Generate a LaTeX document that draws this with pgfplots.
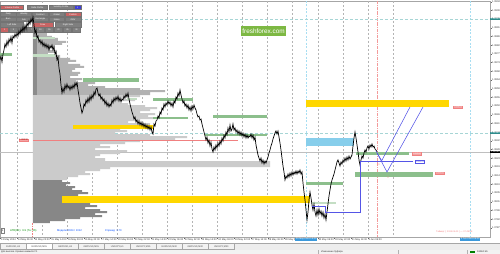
\documentclass[border=0pt]{standalone}
\usepackage{fontspec}
\setmainfont{Liberation Sans}
\usepackage{pgfplots}
\pgfplotsset{compat=1.18}
\definecolor{zgreen}{HTML}{8CBF8C}
\definecolor{zlgreen}{HTML}{C4DEC4}
\definecolor{zyellow}{HTML}{FFD700}
\definecolor{zblue}{HTML}{87CEEB}
\definecolor{pline}{HTML}{5555E6}
\definecolor{teal1}{HTML}{A6D5D5}
\definecolor{tealbox}{HTML}{2E8B8B}
\definecolor{cyanv}{HTML}{A8DEF2}
\definecolor{redl}{HTML}{F08080}
\definecolor{pinkbox}{HTML}{F4A3A3}
\definecolor{btngray}{HTML}{7F7F7F}
\definecolor{btnred}{HTML}{C86464}
\definecolor{btnblue}{HTML}{3F3FD8}
\definecolor{ffgreen}{HTML}{7DB843}
\definecolor{pupper}{HTML}{B2B2B2}
\definecolor{pcore}{HTML}{8C8C8C}
\definecolor{pmid}{HTML}{CBCBCB}
\definecolor{plow}{HTML}{878787}
\definecolor{gridc}{HTML}{B4B4B4}
\newcommand{\fs}[1]{\fontsize{#1}{#1}\selectfont}
\newcommand{\zone}[5]{\addplot[fill=#1,draw=none,forget plot] coordinates {(#2,#4) (#3,#4) (#3,#5) (#2,#5)};}
\newcommand{\btn}[6]{\draw[fill=#5,draw=black!55,line width=0.2pt] (axis cs:#1,#3) rectangle (axis cs:#2,#4);
  \node[text=white,font=\fs{2.2},inner sep=0pt] at (axis cs:{(#1+#2)/2},{(#3+#4)/2}) {#6};}
\newcommand{\plabel}[5]{\node[fill=#2,draw=#3,line width=0.2pt,text=#4,font=\fs{2.3},inner sep=0.4pt,anchor=west] at (axis cs:#1) {#5};}
\begin{document}
\begin{tikzpicture}
\useasboundingbox (0,0) rectangle (500pt,254pt);
\begin{axis}[at={(0pt,17pt)}, anchor=south west, scale only axis,
  width=490pt, height=236pt, xmin=0, xmax=490, ymin=1, ymax=237, y dir=reverse,
  clip=false, axis line style={draw=gray!70, line width=0.5pt},
  xtick pos=bottom, ytick pos=right, yticklabel pos=right,
  tick align=outside, major tick length=1.5pt, tick style={draw=black!60,line width=0.25pt},
  xtick={0.5,17.2,33.9,50.6,67.3,84,100.7,117.4,134.1,150.8,167.5,184.2,200.9,217.6,234.3,251,267.7,284.4,301.1,317.8,334.5,351.2,367.9},
  xticklabels={13 May 2024,14 May 06:00,14 May 22:00,15 May 14:00,16 May 06:00,16 May 22:00,17 May 14:00,20 May 06:00,20 May 22:00,21 May 14:00,22 May 06:00,22 May 22:00,23 May 14:00,24 May 06:00,24 May 22:00,27 May 14:00,28 May 06:00,28 May 22:00,29 May 14:00,30 May 06:00,30 May 22:00,31 May 14:00,3 Jun 06:00},
  xticklabel style={font=\fs{2.5},anchor=north west,inner sep=0.5pt,text=black!80},
  ytick={1.7,10.4,19.1,27.8,36.5,45.2,53.9,62.6,71.3,80.0,88.7,97.4,106.1,114.8,123.5,132.2,140.9,149.6,158.3,167.0,175.7,184.4,193.1,201.8,210.5,219.2,227.9},
  yticklabels={1.09045,1.09000,1.08955,1.08910,1.08865,1.08820,1.08775,1.08730,1.08685,1.08640,1.08595,1.08550,1.08505,1.08460,1.08415,1.08370,1.08325,1.08280,1.08235,1.08190,1.08145,1.08100,1.08055,1.08010,1.07965,1.07920,1.07875},
  yticklabel style={font=\fs{2.5},anchor=west,inner sep=0.5pt,text=black!80},
]
% vertical grid
\pgfplotsinvokeforeach{17,42,67,92,117,142,167,192,217,242,267,292,318,343,368,393}{
  \addplot[gridc,dash pattern=on 2pt off 2pt,line width=0.4pt,forget plot] coordinates {(#1,1) (#1,237)};}
\addplot[cyanv,dash pattern=on 2pt off 1.5pt,line width=0.5pt,forget plot] coordinates {(306,1) (306,237)};
\addplot[cyanv,dash pattern=on 2pt off 1.5pt,line width=0.5pt,forget plot] coordinates {(470,1) (470,237)};
\addplot[redl!80,dash pattern=on 3pt off 1pt on 0.6pt off 1pt,line width=0.4pt,forget plot] coordinates {(377,1) (377,237)};
\addplot[redl,dash pattern=on 1.5pt off 1pt,line width=0.4pt,forget plot] coordinates {(32,223) (32,237)};
% horizontal lines
\addplot[teal1,dash pattern=on 3pt off 2pt,line width=0.8pt,forget plot] coordinates {(0,19) (490,19)};
\addplot[teal1,dash pattern=on 3pt off 2pt,line width=0.8pt,forget plot] coordinates {(0,133) (490,133)};
\addplot[black!25,line width=0.3pt,forget plot] coordinates {(0,152) (490,152)};
% volume profile
\addplot[fill=pupper,draw=none,forget plot] coordinates {(33,27) (37,27) (37,30) (40,30) (40,33) (47,33) (47,36) (52,36) (52,38) (58,38) (58,41) (66,41) (66,43) (62,43) (62,45) (55,45) (55,48) (50,48) (50,50) (57,50) (57,53) (48,53) (48,55) (60,55) (60,58) (70,58) (70,60) (76,60) (76,62) (68,62) (68,64) (80,64) (80,66) (84,66) (84,68) (75,68) (75,70) (72,70) (72,72) (80,72) (80,74) (78,74) (78,76) (70,76) (70,78) (82,78) (82,80) (76,80) (76,82) (95,82) (95,84) (88,84) (88,86) (105,86) (105,88) (140,88) (140,90) (165,90) (165,92) (150,92) (150,95) (33,95)};
\zone{pcore}{33}{37.5}{27}{95}
\addplot[fill=pmid,draw=none,forget plot] coordinates {(33,95) (140,95) (140,97) (125,97) (125,99) (135,99) (135,101) (120,101) (120,103) (128,103) (128,105) (145,105) (145,107) (157,107) (157,109) (150,109) (150,111) (140,111) (140,113) (155,113) (155,115) (148,115) (148,117) (160,117) (160,119) (140,119) (140,121) (128,121) (128,123) (150,123) (150,125) (140,125) (140,128) (120,128) (120,130) (127,130) (127,132) (115,132) (115,134) (150,134) (150,136) (187,136) (187,138) (175,138) (175,140) (140,140) (140,142) (125,142) (125,144) (100,144) (100,146) (110,146) (110,148) (95,148) (95,150) (127,150) (127,152) (120,152) (120,154) (100,154) (100,156) (95,156) (95,158) (105,158) (105,161) (270,161) (270,167) (110,167) (110,169) (100,169) (100,171) (85,171) (85,173) (90,173) (90,175) (78,175) (78,177) (67,177) (67,180) (33,180)};
\addplot[fill=plow,draw=none,forget plot] coordinates {(33,180) (62,180) (62,182) (70,182) (70,184) (66,184) (66,186) (75,186) (75,188) (72,188) (72,190) (82,190) (82,192) (88,192) (88,194) (78,194) (78,196) (70,196) (70,203) (90,203) (90,205) (97,205) (97,207) (85,207) (85,209) (100,209) (100,211) (107,211) (107,213) (95,213) (95,215) (102,215) (102,217) (80,217) (80,219) (65,219) (65,221) (50,221) (50,223) (33,223)};
% zones
\zone{zyellow}{73}{153}{125}{129}
\zone{zyellow}{62}{310}{196}{203}
\zone{zyellow}{306}{449}{100}{107}
\zone{zblue}{306}{354}{138}{146}
\zone{zgreen}{0}{12}{53}{56}
\zone{zlgreen}{33}{55}{37}{39}
\zone{zlgreen}{33}{55}{54}{57}
\zone{zgreen}{83}{139}{78}{81.5}
\zone{zlgreen}{127}{137}{98}{100}
\zone{zgreen}{153}{193}{98}{101}
\zone{zgreen}{153}{188}{117}{119}
\zone{zgreen}{213}{267}{115}{118}
\zone{zgreen}{205}{267}{133.5}{136}
\zone{zgreen}{306}{343}{182}{185}
\zone{zlgreen}{312}{336}{202}{204}
\zone{zgreen}{356}{409}{152}{155}
\zone{zgreen}{355}{433}{172}{176.5}
% red level
\addplot[redl,line width=1pt,forget plot] coordinates {(33,140) (238,140)};
% buttons
\btn{0.5}{23.5}{5}{9.5}{btnred}{Volume Profile}
\btn{27}{47.5}{5}{9.5}{btngray}{Delta Profile}
\btn{49}{73}{5}{9.5}{btngray}{Volatility Profile}
\btn{74}{81}{5}{9.5}{btnblue}{1}
\btn{0.5}{16}{12}{16.5}{btngray}{Daily}
\btn{16.5}{31.5}{12}{16.5}{btngray}{Weekly}
\btn{32.5}{48}{12}{16.5}{btngray}{Contract}
\btn{49}{64.5}{12}{16.5}{btngray}{Global}
\btn{65}{81}{12}{16.5}{btnred}{Custom}
\btn{0.5}{16}{17}{21.5}{btngray}{Bars}
\btn{16.5}{31.5}{17}{21.5}{btngray}{Ask}
\btn{32.5}{48}{17}{21.5}{btngray}{Rectangle}
\btn{49}{64.5}{17}{21.5}{btngray}{Noise}
\btn{65}{81}{17}{21.5}{btngray}{OBV}
\btn{0.5}{23.5}{22.5}{27}{btngray}{Left Side}
\btn{32.5}{53}{22.5}{27}{btnred}{Draw}
\btn{55}{81}{22.5}{27}{btngray}{Right Side}
\btn{0.5}{8.5}{27.5}{32}{btnred}{1}
\btn{9.5}{17.5}{27.5}{32}{btngray}{3}
\btn{18.5}{26.5}{27.5}{32}{btngray}{5}
\btn{27.5}{35.5}{27.5}{32}{btngray}{7}
\btn{36.5}{44.5}{27.5}{32}{btngray}{10}
\btn{45.5}{53.5}{27.5}{32}{btngray}{15}
\btn{54.5}{62.5}{27.5}{32}{btngray}{20}
\btn{63.5}{71.5}{27.5}{32}{btngray}{25}
\btn{72.5}{80.5}{27.5}{32}{btngray}{30}
% price
\addplot[black,line width=0.7pt,forget plot] coordinates {
(0,60)(1,56)(2,62)(3,54)(4,50)(5,44)(6,47)(7,41)(8,45)(9,39)(10,42)(11,37)(12,43)(13,36)(14,38)(15,34)(16,37)(17,33)(18,36)(19,31)(20,34)(21,29)(22,32)(23,27)(24,31)(25,25)(26,29)(27,23)(28,26)(29,21)(30,24)(31,19)(32,22)(33,17)
(34,25)(35,33)(36,30)(37,38)(38,36)(39,42)(40,40)(41,44)(42,41)(43,46)(44,43)(45,47)(46,44)(47,48)(48,45)(49,50)(50,46)(51,48)(52,45)(53,50)(54,47)(55,54)(56,52)(57,60)(58,57)(59,68)(60,74)(61,85)(62,93)
(63,88)(64,92)(65,85)(66,89)(67,84)(68,88)(69,86)(70,90)(71,86)(72,89)(73,85)(74,88)(75,83)(76,86)(77,82)(78,90)(79,96)(80,103)(81,108)(82,113)(83,110)
(84,104)(85,106)(86,100)(87,103)(88,98)(89,102)(90,96)(91,100)(92,95)(93,98)(94,92)(95,95)(96,89)(97,88)(98,93)(99,96)(100,94)(101,99)(102,97)(103,101)(104,99)(105,104)(106,101)(107,106)(108,103)(109,107)(110,104)(111,106)(112,100)(113,103)(114,98)(115,101)(116,97)(117,100)(118,96)(119,101)(120,98)(121,102)(122,99)(123,100)(124,96)(125,98)(126,94)(127,97)(128,93)
(129,99)(130,104)(131,108)(132,112)(133,115)(134,119)(135,117)(136,122)(137,120)(138,124)(139,121)(140,125)(141,122)(142,126)(143,123)(144,127)(145,124)(146,128)(147,125)(148,129)(149,126)(150,130)(151,127)(152,132)(153,134)(154,124)(155,126)(156,121)(157,120)
(158,116)(159,118)(160,112)(161,114)(162,108)(163,110)(164,104)(165,107)(166,103)(167,105)(168,101)(169,104)(170,102)(171,106)(172,103)(173,107)(174,101)(175,103)(176,97)(177,99)(178,93)(179,96)(180,90)(181,95)(182,99)(183,103)(184,101)(185,106)(186,104)(187,108)(188,105)(189,110)(190,107)(191,111)(192,106)(193,109)(194,105)(195,108)(196,110)(197,114)(198,117)(199,116)(200,120)(201,119)(202,124)(203,128)(204,132)(205,136)
(206,140)(207,137)(208,143)(209,140)(210,146)(211,142)(212,149)(213,152)(214,147)(215,150)(216,145)(217,148)(218,143)(219,146)(220,141)(221,144)(222,138)(223,141)(224,135)(225,138)(226,132)(227,135)(228,128)(229,132)(230,125)(231,131)(232,129)(233,124)(234,130)(235,128)(236,132)(237,130)(238,134)(239,131)(240,135)(241,132)(242,136)(243,133)(244,137)(245,134)(246,138)(247,135)(248,138)(249,136)(250,137)
(251,134)(252,138)(253,135)(254,140)(255,137)(256,145)(257,150)(258,155)(259,158)(260,161)(261,158)(262,163)(263,160)(264,164)(265,161)(266,163)(267,160)(268,157)(269,153)(270,150)(271,146)(272,143)(273,139)(274,136)(275,133)(276,131)(277,134)(278,131)(279,137)(280,143)(281,150)(282,158)(283,166)(284,172)(285,180)(286,176)(287,178)(288,174)(289,177)(290,173)(291,176)(292,172)(293,175)(294,172)(295,174)(296,171)(297,174)(298,171)(299,173)(300,170)(301,174)(302,172)(303,183)(304,192)(305,200)(306,210)(307,220)
(308,212)(309,200)(310,192)(311,198)(312,205)(313,210)(314,204)(315,212)(316,216)(317,210)(318,215)(319,209)(320,214)(321,211)(322,216)(323,212)(324,218)(325,214)(326,220)(327,212)(328,204)(329,196)(330,190)(331,184)(332,180)(333,177)(334,174)(335,170)(336,166)(337,162)(338,160)(339,163)(340,166)(341,162)(342,164)(343,160)(344,162)(345,158)(346,161)(347,157)(348,160)(349,156)(350,159)(351,157)(352,155)(353,146)(354,138)(355,132)(356,138)(357,145)(358,152)(359,160)(360,165)(361,160)(362,156)(363,158)(364,153)(365,150)(366,152)(367,148)(368,146)(369,149)(370,145)(371,147)(372,144)(373,147)(374,146)(375,149)(376,150)(377,152)};
% projection lines
\addplot[pline,line width=0.9pt,forget plot] coordinates {(312,206) (325,206) (325,212) (360,212) (360,161) (413,161)};
\addplot[pline,line width=0.55pt,forget plot] coordinates {(376,151) (381.7,160.7) (410,107)};
\addplot[pline,line width=0.55pt,forget plot] coordinates {(377,153) (387,172) (423,107)};
\node[text=redl,font=\fs{2.5},inner sep=0pt] at (axis cs:379,165) {0};
\node[text=redl,font=\fs{2.5},inner sep=0pt] at (axis cs:388,178) {0};
% labels
\plabel{19,140}{pinkbox}{redl}{red!60!black}{1.08330}
\plabel{412,153.5}{pinkbox}{redl}{white}{1.08260}
\plabel{415,161.5}{white}{pline}{pline}{1.08219}
\plabel{435,173}{pinkbox}{redl}{white}{1.08152}
\plabel{453,107}{pinkbox}{redl}{white}{1.08519}
\node[fill=tealbox,text=white,font=\fs{2.5},inner sep=0.5pt,anchor=west] at (axis cs:490,19) {1.08955};
\node[fill=tealbox,text=white,font=\fs{2.5},inner sep=0.5pt,anchor=west] at (axis cs:490,133) {1.08366};
\node[fill=black,text=white,font=\fs{2.5},inner sep=0.5pt,anchor=west] at (axis cs:490,152) {1.08268};
% logo
\node[fill=ffgreen,text=white,font=\fs{6.4},inner sep=0pt,minimum width=45pt,minimum height=10pt] at (axis cs:263.5,31) {freshforex.com};
% info row
\draw[fill=white,draw=gray,line width=0.2pt] (axis cs:1,228.5) rectangle (axis cs:4.5,233.5);
\node[font=\fs{2.4},inner sep=0pt] at (axis cs:2.75,231) {1};
\node[text=green!55!black,font=\fs{2.7},inner sep=0pt,anchor=west] at (axis cs:10,231) {ATR(D1): 9.9 (Тн: 26)};
\node[text=blue!70!cyan,font=\fs{2.7},inner sep=0pt,anchor=west] at (axis cs:57,231) {Модели 2024 / 1012};
\node[text=blue!70!cyan,font=\fs{2.7},inner sep=0pt,anchor=west] at (axis cs:105,231) {Спреад: 1.70};
\node[text=redl,font=\fs{2.3},inner sep=0pt,anchor=west] at (axis cs:436,232) {Таймер: [ 2024.06.03 ] — 07:49:58};
% highlighted time labels
\node[fill=cyan!70!blue!80,text=white,font=\fs{2.4},inner sep=0.5pt,anchor=north west,minimum width=22pt] at (axis cs:295,237.6) {29 May 2024 19:00};
\node[fill=cyan!70!blue!80,text=white,font=\fs{2.4},inner sep=0.5pt,anchor=north west,minimum width=20pt] at (axis cs:460,237.6) {3 Jun 2024 09:00};
\end{axis}
% bottom UI
\fill[black!7] (0pt,4pt) rectangle (500pt,11pt);
\draw[black!35,line width=0.3pt] (0pt,11pt) -- (500pt,11pt);
\foreach \i in {0,...,8}{
  \draw[fill=black!5,draw=black!35,line width=0.2pt] ({\i*26pt+0.5pt},4.5pt) rectangle ({\i*26pt+26pt},10.5pt);
}
\draw[fill=white,draw=black!35,line width=0.2pt] (26.5pt,4.5pt) rectangle (52pt,10.8pt);
\foreach \i/\t in {0/{EURUSD,H1},1/{EURUSD,M15},2/{GBPUSD,H1},3/{GBPUSD,M15},4/{USDJPY,H1},5/{USDJPY,M15},6/{EURUSD,M30},7/{GBPUSD,M30},8/{USDJPY,M30}}{
  \node[font=\fs{2.4},text=black!70,inner sep=0pt] at ({\i*26pt+13.25pt},7.5pt) {\t};
}
\fill[black!5] (0pt,0pt) rectangle (500pt,4pt);
\node[font=\fs{2.4},text=black!80,inner sep=0pt,anchor=west] at (1pt,2pt) {Для вызова справки нажмите F1};
\draw[black!30,line width=0.2pt] (318pt,0.3pt) -- (318pt,3.7pt);
\draw[black!30,line width=0.2pt] (398pt,0.3pt) -- (398pt,3.7pt);
\draw[black!30,line width=0.2pt] (467pt,0.3pt) -- (467pt,3.7pt);
\node[font=\fs{2.4},text=black!80,inner sep=0pt,anchor=west] at (321pt,2pt) {Изменение буфера};
\fill[green!50!black] (470pt,0.6pt) rectangle (475pt,3.4pt);
\node[font=\fs{2.4},text=black!80,inner sep=0pt,anchor=west] at (477pt,2pt) {1826/3 kb};
\end{tikzpicture}
\end{document}
